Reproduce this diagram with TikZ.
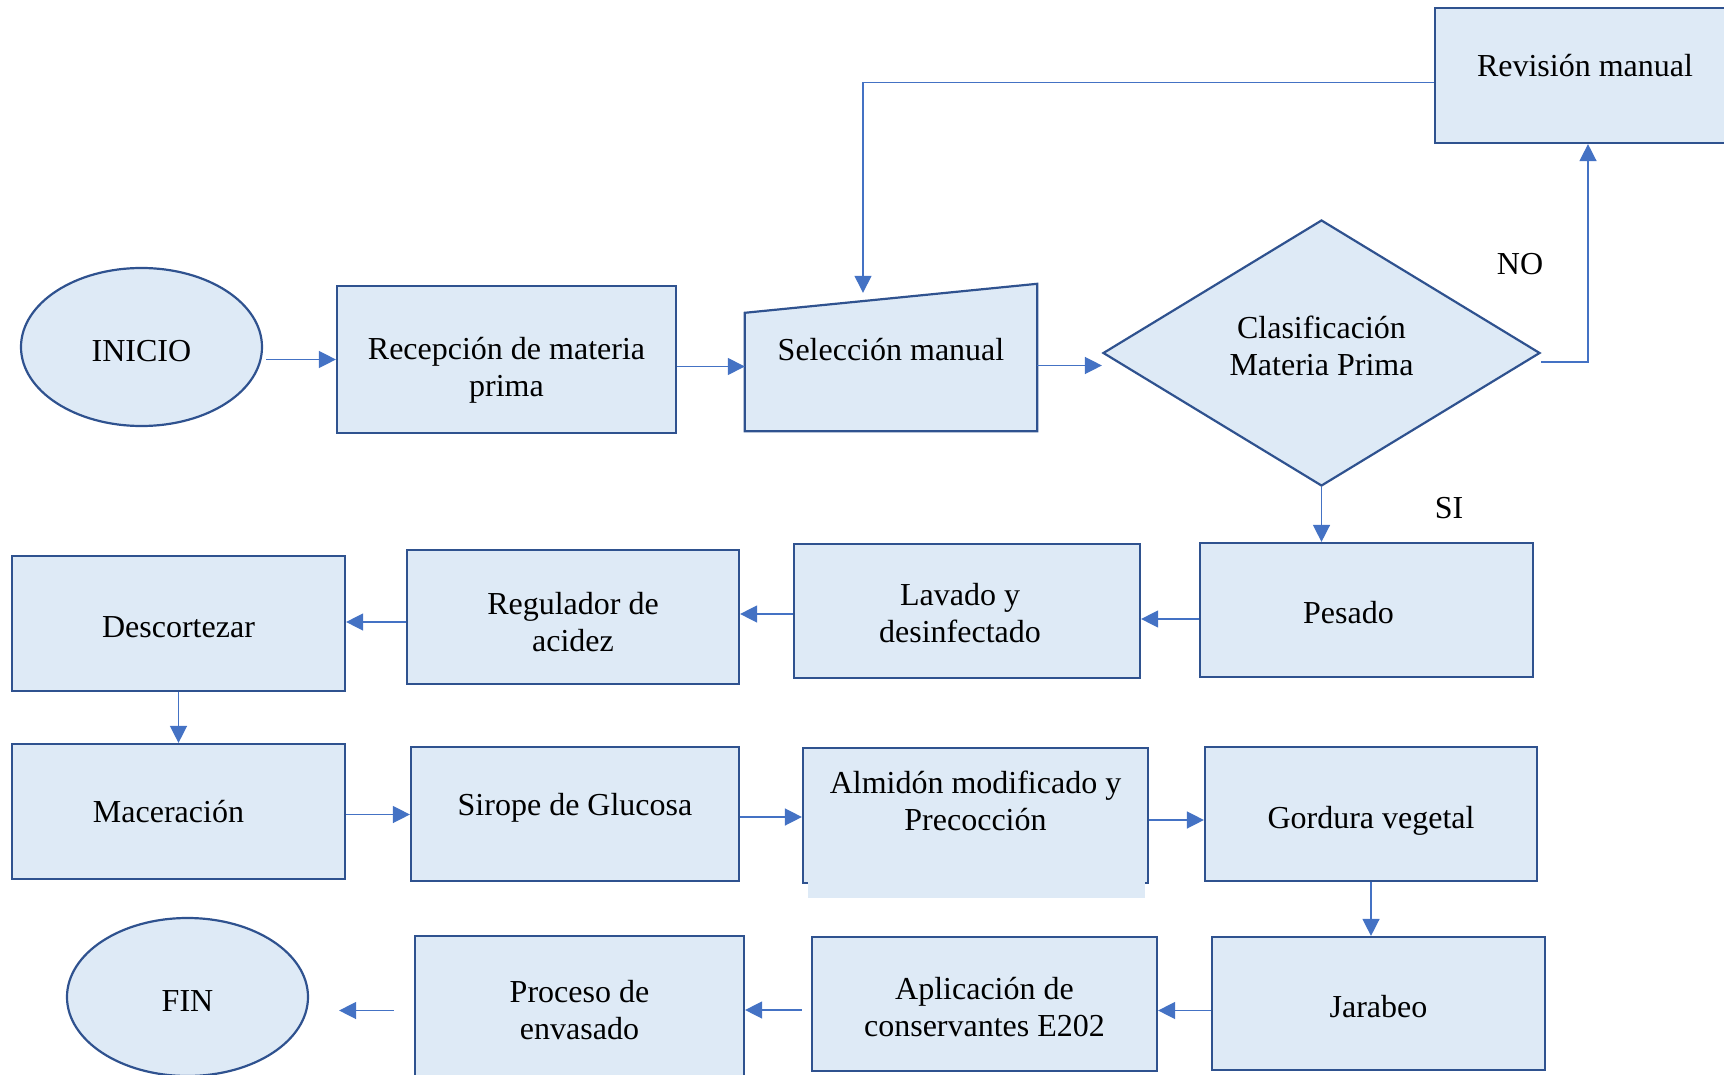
\documentclass[tikz,border=0pt]{standalone}
\usepackage{fontspec}
\setmainfont{Liberation Serif}
\usetikzlibrary{shapes.geometric, arrows.meta}
\definecolor{fondo}{HTML}{DEEAF6}
\definecolor{borde}{HTML}{2F528F}
\definecolor{flecha}{HTML}{4472C4}
\tikzset{
  caja/.style={draw=borde, fill=fondo, line width=2.2pt},
  proc/.style={caja, rectangle, inner sep=0pt},
  term/.style={caja, ellipse, inner sep=0pt},
  deci/.style={caja, diamond, inner sep=0pt},
  bajo/.style={text height=28pt, text depth=0pt},
  arr/.style={draw=flecha, line width=1.4pt, -{Triangle[length=17pt,width=17pt]}},
  every label/.style={align=center},
}

\begin{document}
\begin{tikzpicture}[x=1pt, y=-1pt, font=\fontsize{32}{37}\selectfont]
\useasboundingbox (0,0) rectangle (1724,1075);
\clip (0,0) rectangle (1724,1075);
\node[term, bajo, minimum width=241pt, minimum height=158pt] (ini) at (141.5,347) {INICIO};
\node[proc, minimum width=339pt, minimum height=147pt, label={[yshift=-11pt]center:Recepción de materia\\prima}] (rec) at (506.5,359.5) {};
\node[minimum width=292pt, minimum height=147pt, inner sep=0pt] (sel) at (891,357.5) {};
\draw[caja] (sel.south west) -- (sel.south east) -- (sel.north east) -- ([yshift=-29pt]sel.north west) -- cycle;
\node (seltxt) at ([yshift=8pt]sel.center) {Selección manual};
\node[deci, minimum width=437pt, minimum height=266pt, label={[yshift=7pt]center:Clasificación\\Materia Prima}] (cla) at (1321.5,353) {};
\node[proc, minimum width=300pt, minimum height=135pt, label={[yshift=9.5pt]center:Revisión manual}] (rev) at (1585,75.5) {};
\node[proc, minimum width=333pt, minimum height=134pt, label={[xshift=-18pt, yshift=-3pt]center:Pesado}] (pes) at (1366.5,610) {};
\node[proc, minimum width=346pt, minimum height=134pt, label={[xshift=-7pt, yshift=-2pt]center:Lavado y\\desinfectado}] (lav) at (967,611) {};
\node[proc, minimum width=332pt, minimum height=134pt, label={[yshift=-5pt]center:Regulador de\\acidez}] (reg) at (573,617) {};
\node[proc, bajo, minimum width=333pt, minimum height=135pt] (des) at (178.5,623.5) {Descortezar};
\node[proc, minimum width=333pt, minimum height=135pt, label={[xshift=-10pt]center:Maceración}] (mac) at (178.5,811.5) {};
\node[proc, minimum width=328pt, minimum height=134pt, label={[yshift=6pt]center:Sirope de Glucosa}] (sir) at (575,814) {};
\node[proc, minimum width=345pt, minimum height=135pt, label={[yshift=15pt]center:Almidón modificado y\\Precocción}] (alm) at (975.5,815.5) {};
\fill[fondo] (808,866) rectangle (1145,898);
\node[proc, bajo, minimum width=332pt, minimum height=134pt] (gor) at (1371,814) {Gordura vegetal};
\node[proc, bajo, minimum width=333pt, minimum height=133pt] (jar) at (1378.5,1003.5) {Jarabeo};
\node[proc, minimum width=345pt, minimum height=134pt, label={[yshift=-3pt]center:Aplicación de\\conservantes E202}] (apl) at (984.5,1004) {};
\node[proc, minimum width=329pt, minimum height=149pt, align=center] (pro) at (579.5,1010.5) {Proceso de\\envasado};
\node[term, bajo, minimum width=241pt, minimum height=158pt] (fin) at (187.5,997) {FIN};
\node (no) at (1520,264) {NO};
\node (si) at (1449,508.5) {SI};
\draw[arr, shorten <=3pt] (ini.east |- rec.west) -- (rec.west);
\draw[arr] ([yshift=-7pt]rec.east) -- ([yshift=-7pt]rec.east -| sel.west);
\draw[arr] ([yshift=-8pt]sel.east) -- ([yshift=-8pt]sel.east -| cla.west);
\draw[arr] ([yshift=-9pt]cla.east) -| ([xshift=3pt]rev.south);
\draw[arr] ([yshift=-7pt]rev.west) -| ([xshift=-28pt,yshift=-9pt]sel.north);
\draw[arr] (cla.south) -- (cla.south |- pes.north);
\draw[arr] ([yshift=-9pt]pes.west) -- ([yshift=-9pt]pes.west -| lav.east);
\draw[arr] ([yshift=-3pt]lav.west) -- ([yshift=-3pt]lav.west -| reg.east);
\draw[arr] ([yshift=-5pt]reg.west) -- ([yshift=-5pt]reg.west -| des.east);
\draw[arr] (des) -- (mac);
\draw[arr] ([yshift=-3pt]mac.east) -- ([yshift=-3pt]mac.east -| sir.west);
\draw[arr] ([yshift=-3pt]sir.east) -- ([yshift=-3pt]sir.east -| alm.west);
\draw[arr] ([yshift=-4.5pt]alm.east) -- ([yshift=-4.5pt]alm.east -| gor.west);
\draw[arr] (gor.south) -- (gor.south |- jar.north);
\draw[arr] ([yshift=-7pt]jar.west) -- ([yshift=-7pt]jar.west -| apl.east);
\draw[arr, shorten <=9pt] ([yshift=-6pt]apl.west) -- ([yshift=-6pt]apl.west -| pro.east);
\draw[arr, shorten <=20pt, shorten >=30pt] (pro.west) -- (pro.west -| fin.east);
\end{tikzpicture}
\end{document}
